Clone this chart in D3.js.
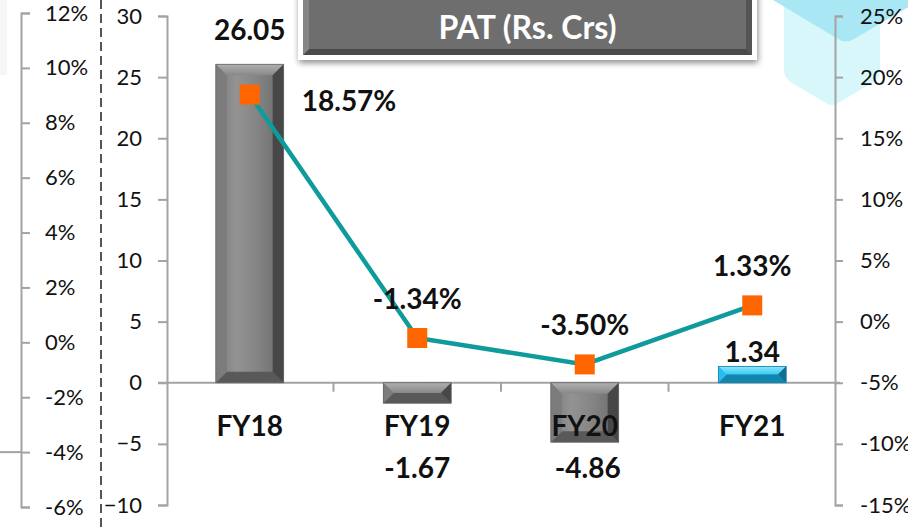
<!DOCTYPE html>
<html><head><meta charset="utf-8">
<script src="https://cdn.jsdelivr.net/npm/d3@7"></script>
<style>
html,body{margin:0;padding:0;background:#fff;}
svg{display:block;font-family:Lato,"Open Sans",sans-serif;}
</style></head>
<body>
<svg id="chart" width="908" height="527"></svg>
<script>
const categories = ["FY18", "FY19", "FY20", "FY21"];
const patValues = [26.05, -1.67, -4.86, 1.34];
const patLabels = ["26.05", "-1.67", "-4.86", "1.34"];
const patMargin = [18.57, -1.34, -3.50, 1.33];
const marginLabels = ["18.57%", "-1.34%", "-3.50%", "1.33%"];
const barTicks = [-10, -5, 0, 5, 10, 15, 20, 25, 30];
const rightPctTicks = [-15, -10, -5, 0, 5, 10, 15, 20, 25];
const leftPctTicks = [-6, -4, -2, 0, 2, 4, 6, 8, 10, 12];
const title = "PAT (Rs. Crs)";

const svg = d3.select("#chart");
const W = 908, H = 527;
const axisColor = "#a3a3a3";

const x = d3.scaleBand().domain(categories).range([166, 836]).padding(0);
const yBar = d3.scaleLinear().domain([-10, 30]).range([505, 16]);
const yR = d3.scaleLinear().domain([-15, 25]).range([505, 16]);
const yL = d3.scaleLinear().domain([-6, 12]).range([507, 13]);

const defs = svg.append("defs");
function hGrad(id, stops) {
  const g = defs.append("linearGradient").attr("id", id).attr("x1", "0").attr("x2", "1").attr("y1", "0").attr("y2", "0");
  stops.forEach(s => g.append("stop").attr("offset", s[0]).attr("stop-color", s[1]));
}
function vGrad(id, stops) {
  const g = defs.append("linearGradient").attr("id", id).attr("x1", "0").attr("x2", "0").attr("y1", "0").attr("y2", "1");
  stops.forEach(s => g.append("stop").attr("offset", s[0]).attr("stop-color", s[1]));
}
hGrad("grayMid", [[0, "#7a7a7a"], [0.3, "#939393"], [0.6, "#858585"], [1, "#6a6a6a"]]);
vGrad("grayTop", [[0, "#b0b0b0"], [1, "#888888"]]);
hGrad("blueMid", [[0, "#1eb4e6"], [0.4, "#2ec4f2"], [1, "#1aa8da"]]);
vGrad("blueTop", [[0, "#8ae6fc"], [1, "#3ccaf2"]]);
const f = defs.append("filter").attr("id", "shadow").attr("x", "-10%").attr("y", "-30%").attr("width", "120%").attr("height", "170%");
f.append("feGaussianBlur").attr("in", "SourceAlpha").attr("stdDeviation", 3);
f.append("feOffset").attr("dx", 1).attr("dy", 3).attr("result", "b");
f.append("feComponentTransfer").append("feFuncA").attr("type", "linear").attr("slope", 0.45);
const fm = f.append("feMerge"); fm.append("feMergeNode"); fm.append("feMergeNode").attr("in", "SourceGraphic");

// faint top-left shading
svg.append("rect").attr("x", 0).attr("y", 0).attr("width", 7).attr("height", 75).attr("fill", "#f6f6f6");

// decorative hexagons top-right
svg.append("path").attr("d", "M784,-20 L784,70 Q784,78 792,83 L826,103 Q832,107 838,103 L872,83 Q880,78 880,70 L880,-20 Z")
  .attr("fill", "#d7f7fa");
svg.append("path").attr("d", "M760,-10 L773,0 L838,39 Q846,44 854,39 L915,3 L915,-10 Z")
  .attr("fill", "#a9e7f5");

// dashed divider
svg.append("line").attr("x1", 101).attr("x2", 101).attr("y1", 0).attr("y2", H)
  .attr("stroke", "#555").attr("stroke-width", 2).attr("stroke-dasharray", "9,5");

// axes
function styleAxis(g) {
  g.selectAll("path,line").attr("stroke", axisColor).attr("stroke-width", 2);
  g.selectAll("text").attr("fill", "#111").attr("font-size", 22).attr("font-family", "Lato, sans-serif");
}
const leftAx = svg.append("g").attr("transform", "translate(21,0)")
  .call(d3.axisRight(yL).tickValues(leftPctTicks).tickFormat(d => d + "%").tickSize(9).tickSizeOuter(9).tickPadding(15));
styleAxis(leftAx);
leftAx.selectAll("text").attr("text-anchor", "start");
svg.append("line").attr("x1", 0).attr("x2", 21).attr("y1", yL(-4)).attr("y2", yL(-4)).attr("stroke", axisColor).attr("stroke-width", 2);

const barAx = svg.append("g").attr("transform", "translate(167,0)")
  .call(d3.axisLeft(yBar).tickValues(barTicks).tickSize(9).tickSizeOuter(9).tickPadding(16));
styleAxis(barAx);

const rightAx = svg.append("g").attr("transform", "translate(835,0)")
  .call(d3.axisRight(yR).tickValues(rightPctTicks).tickFormat(d => d + "%").tickSize(8).tickSizeOuter(8).tickPadding(17));
styleAxis(rightAx);

// category axis (zero line)
const y0 = yBar(0);
svg.append("line").attr("x1", 158).attr("x2", 840).attr("y1", y0).attr("y2", y0).attr("stroke", axisColor).attr("stroke-width", 2);
categories.slice(1).forEach(c => {
  svg.append("line").attr("x1", x(c)).attr("x2", x(c)).attr("y1", y0).attr("y2", y0 + 9).attr("stroke", axisColor).attr("stroke-width", 2);
});

// bars with bevel
const bw = x.bandwidth() * 0.405;
const barsG = svg.append("g");
patValues.forEach((v, i) => {
  const blue = i === 3;
  const cx = x(categories[i]) + x.bandwidth() / 2;
  const x0 = cx - bw / 2, x1 = cx + bw / 2;
  const yt = Math.min(yBar(v), yBar(0)), yb = Math.max(yBar(v), yBar(0));
  const h = yb - yt;
  const b = Math.min(11, h / 2, bw / 2);
  const g = barsG.append("g");
  const c = blue ? { mid: "url(#blueMid)", top: "url(#blueTop)", left: "#2bbcec", right: "#0e6f92", bot: "#1386b0" }
                 : { mid: "url(#grayMid)", top: "url(#grayTop)", left: "#7c7c7c", right: "#474747", bot: "#595959" };
  g.append("rect").attr("x", x0).attr("y", yt).attr("width", bw).attr("height", h).attr("fill", c.mid);
  const poly = (pts, fill) => g.append("polygon").attr("points", pts.map(p => p.join(",")).join(" ")).attr("fill", fill);
  poly([[x0, yt], [x1, yt], [x1 - b, yt + b], [x0 + b, yt + b]], c.top);
  poly([[x0, yb], [x1, yb], [x1 - b, yb - b], [x0 + b, yb - b]], c.bot);
  poly([[x0, yt], [x0 + b, yt + b], [x0 + b, yb - b], [x0, yb]], c.left);
  poly([[x1, yt], [x1 - b, yt + b], [x1 - b, yb - b], [x1, yb]], c.right);
  g.append("rect").attr("x", x0).attr("y", yt).attr("width", bw).attr("height", h).attr("fill", "none").attr("stroke", blue ? "#1280a8" : "#666").attr("stroke-width", 0.8);
});

// text helper
const fontBold = { "font-size": 28, "font-weight": "bold", "fill": "#111", "text-anchor": "middle", "font-family": "Lato, sans-serif" };
function txt(s, px, py, extra) {
  const t = svg.append("text").attr("x", px).attr("y", py).text(s);
  Object.entries(Object.assign({}, fontBold, extra || {})).forEach(([k, v]) => t.attr(k, v));
  return t;
}
categories.forEach((c, i) => txt(c, x(c) + x.bandwidth() / 2, 436));

// PAT value labels
patValues.forEach((v, i) => {
  const cx = x(categories[i]) + x.bandwidth() / 2;
  let py;
  if (i === 0) py = yBar(v) - 24;
  else if (i === 3) py = yBar(v) - 4;
  else py = yBar(0) + 95;
  txt(patLabels[i], cx + (i === 2 ? 3 : 0), py);
});

// margin line
const pts = patMargin.map((v, i) => [x(categories[i]) + x.bandwidth() / 2, yR(v)]);
svg.append("path").attr("d", d3.line()(pts)).attr("fill", "none").attr("stroke", "#0f9b9b").attr("stroke-width", 4.5);
svg.selectAll("rect.mk").data(pts).join("rect").attr("class", "mk")
  .attr("x", d => d[0] - 10).attr("y", d => d[1] - 10).attr("width", 20).attr("height", 20).attr("fill", "#ff6600");

// margin labels
pts.forEach((p, i) => {
  if (i === 0) txt(marginLabels[i], p[0] + 52, p[1] + 16, { "text-anchor": "start" });
  else txt(marginLabels[i], p[0], p[1] - 29);
});

// title box
const tb = svg.append("g");
tb.append("rect").attr("x", 298).attr("y", -12).attr("width", 459).attr("height", 72).attr("fill", "#fff").attr("filter", "url(#shadow)");
const tx0 = 303, tx1 = 752, ty0 = -10, ty1 = 55, tbv = 6;
tb.append("rect").attr("x", tx0).attr("y", ty0).attr("width", tx1 - tx0).attr("height", ty1 - ty0).attr("fill", "#6e6e6e");
const tpoly = (p, fill) => tb.append("polygon").attr("points", p.map(q => q.join(",")).join(" ")).attr("fill", fill);
tpoly([[tx0, ty1], [tx1, ty1], [tx1 - tbv, ty1 - tbv], [tx0 + tbv, ty1 - tbv]], "#4a4a4a");
tpoly([[tx0, ty0], [tx0 + tbv, ty0 + tbv], [tx0 + tbv, ty1 - tbv], [tx0, ty1]], "#858585");
tpoly([[tx1, ty0], [tx1 - tbv, ty0 + tbv], [tx1 - tbv, ty1 - tbv], [tx1, ty1]], "#555");
txt(title, (tx0 + tx1) / 2, 39, { fill: "#fff", "font-size": 32 });
</script>
</body></html>
